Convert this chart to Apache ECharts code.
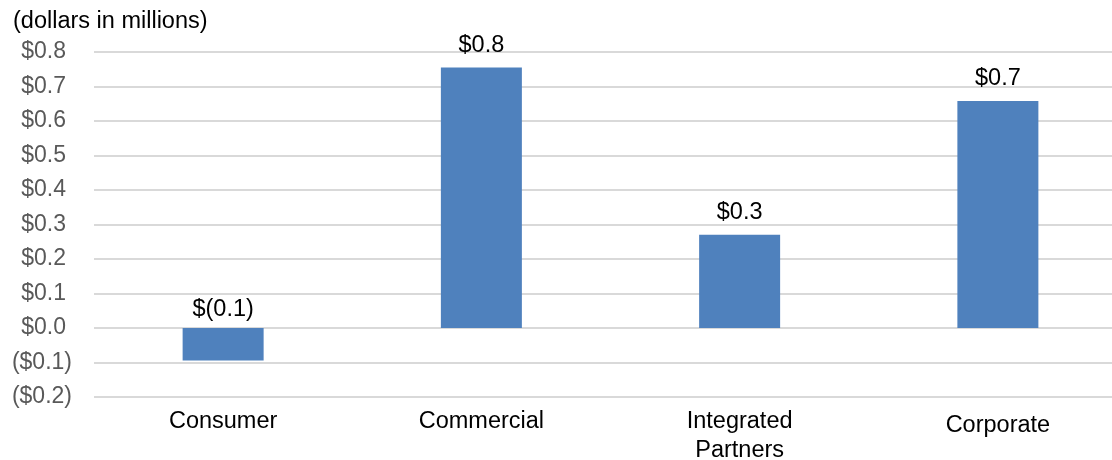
<!DOCTYPE html>
<html>
<head>
    <meta charset="utf-8">
    <title>ECharts</title>
    <script src="https://cdn.jsdelivr.net/npm/echarts/dist/echarts.min.js"></script>
    <style>
        html, body { margin: 0; padding: 0; background: #fff; overflow: hidden; }
    </style>
</head>
<body>
    <!-- chart is a bit wider than the window, the last column runs past the right edge -->
    <div id="main" style="width: 1127px;height:460px;"></div>
    <script>
        // segment results, dollars in millions
        var categories = ['Consumer', 'Commercial', 'Integrated\nPartners', 'Corporate'];
        var values = [-0.094, 0.755, 0.27, 0.658];
        var yMin = -0.2, yMax = 0.8, yStep = 0.1;

        function money(v, paren) {
            var s = Math.abs(v).toFixed(1);
            if (v < -0.0001) return paren ? '($' + s + ')' : '$(' + s + ')';
            return '$' + s;
        }

        var chartDom = document.getElementById('main');
        var myChart = echarts.init(chartDom);
        var option;

        option = {
            animation: false,
            textStyle: { fontFamily: 'Liberation Sans, Arial, sans-serif' },
            title: {
                text: '(dollars in millions)',
                left: 8,
                top: 5,
                textStyle: { fontSize: 23.5, fontWeight: 'normal', color: '#000' }
            },
            grid: { left: 94, right: 0, top: 52, bottom: 63, outerBoundsMode: 'none' },
            xAxis: {
                type: 'category',
                data: categories.map(function (c) {
                    // the last label sits a little lower in the original
                    return c === 'Corporate' ? { value: c, textStyle: { padding: [4, 0, 0, 0] } } : c;
                }),
                axisLine: { show: false },
                axisTick: { show: false },
                axisLabel: {
                    fontSize: 23.5,
                    color: '#000',
                    margin: 10,
                    lineHeight: 29,
                    interval: 0
                }
            },
            yAxis: {
                type: 'value',
                min: yMin,
                max: yMax,
                interval: yStep,
                axisLine: { show: false },
                axisTick: { show: false },
                splitLine: { lineStyle: { color: '#d9d9d9', width: 2 } },
                axisLabel: {
                    fontSize: 23,
                    color: '#595959',
                    margin: 22,
                    formatter: function (v) {
                        return v < -0.0001 ? money(v, true) : '{p|' + money(v) + '}';
                    },
                    rich: { p: { fontSize: 23, color: '#595959', padding: [0, 6, 0, 0] } }
                }
            },
            series: [
                {
                    type: 'bar',
                    data: values.map(function (v) {
                        // negative label hugs the zero line a bit closer
                        return v < 0 ? { value: v, label: { distance: 6 } } : v;
                    }),
                    barWidth: 81,
                    itemStyle: { color: '#4f81bd' },
                    label: {
                        show: true,
                        position: 'top',
                        distance: 10,
                        fontSize: 23.5,
                        color: '#000',
                        formatter: function (p) { return money(p.value); }
                    }
                }
            ]
        };

        option && myChart.setOption(option);
    </script>
</body>
</html>
